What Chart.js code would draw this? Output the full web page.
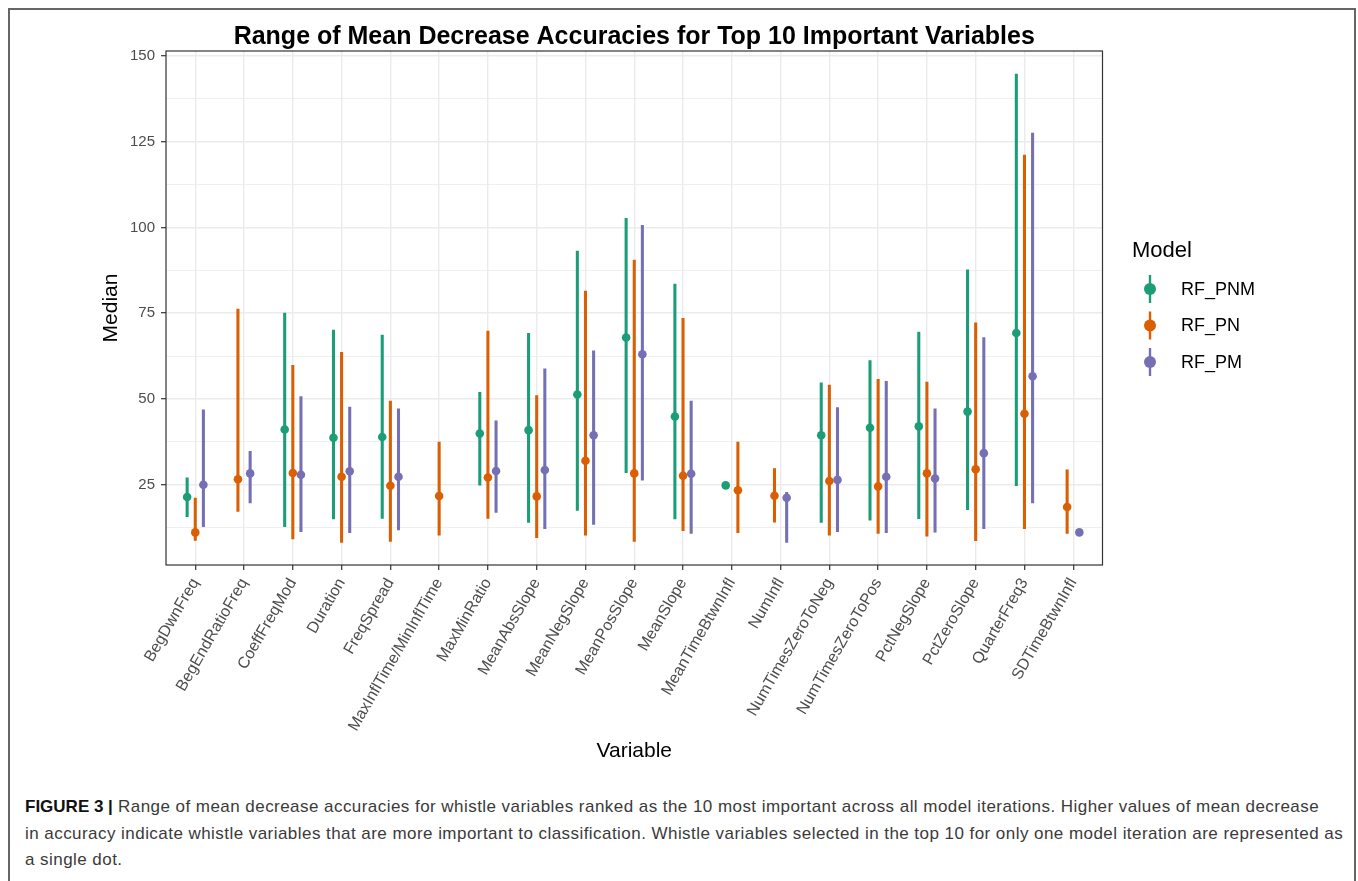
<!DOCTYPE html>
<html>
<head>
<meta charset="utf-8">
<script src="https://cdn.jsdelivr.net/npm/chart.js@4.4.1/dist/chart.umd.min.js"></script>
<style>
  html, body { margin: 0; padding: 0; background: #fff; overflow: hidden; }
  #frame {
    position: absolute; left: 8px; top: 8px; width: 1348px; height: 900px;
    box-sizing: border-box; border: 2px solid #666;
  }
  #chart { position: absolute; left: 0; top: 0; }
  #caption {
    position: absolute; left: 25px; top: 794px;
    font-family: "Liberation Sans", Arial, sans-serif; font-size: 17px;
    letter-spacing: 0.45px; line-height: 26.5px; color: #3a3a3a; white-space: nowrap;
  }
  #caption b { color: #111; letter-spacing: 0; }
</style>
</head>
<body>
<div id="frame"></div>
<canvas id="chart" width="1358" height="790"></canvas>
<div id="caption">
  <b>FIGURE 3 |</b> Range of mean decrease accuracies for whistle variables ranked as the 10 most important across all model iterations. Higher values of mean decrease<br>
  in accuracy indicate whistle variables that are more important to classification. Whistle variables selected in the top 10 for only one model iteration are represented as<br>
  a single dot.
</div>
<script>
const variables = ['BegDwnFreq', 'BegEndRatioFreq', 'CoeffFreqMod', 'Duration', 'FreqSpread',
  'MaxInflTime/MinInflTime', 'MaxMinRatio', 'MeanAbsSlope', 'MeanNegSlope', 'MeanPosSlope',
  'MeanSlope', 'MeanTimeBtwnInfl', 'NumInfl', 'NumTimesZeroToNeg', 'NumTimesZeroToPos',
  'PctNegSlope', 'PctZeroSlope', 'QuarterFreq3', 'SDTimeBtwnInfl'];

const models = ['RF_PNM', 'RF_PN', 'RF_PM'];
const modelColors = ['#1B9E77', '#D95F02', '#7570B3'];

// RF_PNM
const pnmMed  = [21.4, null, 41.1, 38.7, 38.9, null, 39.9, 40.9, 51.3, 67.9, 44.9, 24.8, null, 39.4, 41.6, 42.0, 46.3, 69.2, null];
const pnmLow  = [15.7, null, 12.8, 15.0, 15.2, null, 24.9, 14.0, 17.5, 28.5, 15.0, 24.8, null, 14.0, 14.7, 15.1, 17.7, 24.7, null];
const pnmHigh = [27.0, null, 75.0, 70.1, 68.6, null, 51.9, 69.1, 93.1, 102.6, 83.5, 24.8, null, 54.7, 61.2, 69.5, 87.6, 144.7, null];
// RF_PN
const pnMed  = [11.1, 26.6, 28.4, 27.3, 24.7, 21.7, 27.1, 21.6, 32.0, 28.3, 27.6, 23.4, 21.8, 26.1, 24.5, 28.3, 29.5, 45.7, 18.5];
const pnLow  = [8.8, 17.2, 9.2, 8.2, 8.5, 10.3, 15.2, 9.6, 10.3, 8.5, 11.6, 11.0, 14.1, 10.3, 10.8, 10.0, 8.7, 12.2, 10.8];
const pnHigh = [21.1, 76.2, 59.8, 63.6, 49.4, 37.4, 69.8, 51.0, 81.4, 90.5, 73.5, 37.4, 29.7, 54.0, 55.7, 54.9, 72.2, 121.1, 29.3];
// RF_PM
const pmMed  = [25.0, 28.3, 27.9, 28.9, 27.3, null, 29.0, 29.3, 39.4, 63.0, 28.2, null, 21.2, 26.4, 27.3, 26.8, 34.2, 56.6, 11.1];
const pmLow  = [12.8, 19.7, 11.3, 11.0, 11.8, null, 16.9, 12.2, 13.4, 26.3, 10.8, null, 8.2, 11.3, 11.0, 11.2, 12.2, 19.7, 11.1];
const pmHigh = [46.8, 34.7, 50.7, 47.6, 47.1, null, 43.6, 58.8, 64.0, 100.6, 49.4, null, 22.8, 47.5, 55.1, 47.1, 67.9, 127.5, 11.1];

const yTicks = [25, 50, 75, 100, 125, 150];

const meds = [pnmMed, pnMed, pmMed];
const lows = [pnmLow, pnLow, pmLow];
const highs = [pnmHigh, pnHigh, pmHigh];

// position_dodge(width = 0.5): split among the models present at each variable
function dodgeX(i, m) {
  const present = meds.map(a => a[i] != null);
  const n = present.filter(Boolean).length;
  const k = present.slice(0, m).filter(Boolean).length;
  return i + (k - (n - 1) / 2) * (0.5 / n);
}

const datasets = [];
models.forEach((name, m) => {
  const pts = [], bars = [];
  variables.forEach((v, i) => {
    if (meds[m][i] == null) return;
    const x = dodgeX(i, m);
    pts.push({ x: x, y: meds[m][i] });
    bars.push({ x: x, y: [lows[m][i], highs[m][i]] });
  });
  datasets.push({
    type: 'bar', label: name + ' range', data: bars,
    backgroundColor: modelColors[m], barThickness: 2.4, grouped: false, order: 2
  });
  datasets.push({
    type: 'scatter', label: name, data: pts,
    backgroundColor: modelColors[m], borderWidth: 0, pointRadius: 4.3, order: 1
  });
});

const decor = {
  id: 'decor',
  afterDraw(chart) {
    const { ctx, chartArea: a } = chart;
    ctx.save();
    // panel border
    ctx.strokeStyle = '#333';
    ctx.lineWidth = 1.2;
    ctx.strokeRect(a.left, a.top, a.right - a.left, a.bottom - a.top);
    // title
    ctx.fillStyle = '#000';
    ctx.font = 'bold 25px "Liberation Sans", Arial, sans-serif';
    ctx.textAlign = 'center';
    ctx.textBaseline = 'middle';
    ctx.fillText('Range of Mean Decrease Accuracies for Top 10 Important Variables', (a.left + a.right) / 2, 37);
    // legend
    ctx.textAlign = 'left';
    ctx.font = '22px "Liberation Sans", Arial, sans-serif';
    ctx.fillText('Model', 1132, 251);
    ctx.font = '18px "Liberation Sans", Arial, sans-serif';
    models.forEach((name, m) => {
      const y = 289 + m * 36.5;
      ctx.strokeStyle = modelColors[m];
      ctx.lineWidth = 2.4;
      ctx.beginPath();
      ctx.moveTo(1150, y - 14);
      ctx.lineTo(1150, y + 14);
      ctx.stroke();
      ctx.fillStyle = modelColors[m];
      ctx.beginPath();
      ctx.arc(1150, y, 6, 0, Math.PI * 2);
      ctx.fill();
      ctx.fillStyle = '#000';
      ctx.fillText(name, 1181, y + 1);
    });
    ctx.restore();
  }
};

new Chart(document.getElementById('chart'), {
  type: 'scatter',
  data: { datasets: datasets },
  options: {
    responsive: false,
    animation: false,
    devicePixelRatio: 1,
    layout: { padding: { left: 99, right: 255.5, top: 51, bottom: 26 } },
    plugins: { legend: { display: false }, tooltip: { enabled: false } },
    scales: {
      x: {
        type: 'linear',
        min: -0.6,
        max: variables.length - 1 + 0.6,
        offset: false,
        afterBuildTicks: s => { s.ticks = variables.map((v, i) => ({ value: i })); },
        afterFit: s => { s.height = 199; },
        ticks: {
          autoSkip: false,
          minRotation: 60,
          maxRotation: 60,
          padding: 5,
          color: '#4d4d4d',
          font: { family: '"Liberation Sans", Arial, sans-serif', size: 16 },
          callback: v => variables[v]
        },
        grid: { offset: false, color: '#ebebeb', lineWidth: 1.4, tickColor: '#333', tickLength: 5, tickWidth: 1.2 },
        border: { display: false },
        title: {
          display: true, text: 'Variable', color: '#000',
          font: { family: '"Liberation Sans", Arial, sans-serif', size: 21 },
          padding: 0
        }
      },
      y: {
        min: 1.6,
        max: 151.4,
        afterBuildTicks: s => {
          const t = [];
          yTicks.forEach(v => { t.push({ value: v - 12.5 }); t.push({ value: v }); });
          s.ticks = t;
        },
        afterFit: s => { s.width = 67; },
        ticks: {
          padding: 6,
          color: '#4d4d4d',
          font: { family: '"Liberation Sans", Arial, sans-serif', size: 15 },
          callback: v => (yTicks.includes(v) ? v : '')
        },
        grid: {
          color: '#ebebeb',
          lineWidth: c => (yTicks.includes(c.tick.value) ? 1.4 : 0.8),
          tickColor: c => (yTicks.includes(c.tick.value) ? '#333' : 'rgba(0,0,0,0)'),
          tickLength: 5,
          tickWidth: 1.2
        },
        border: { display: false },
        title: {
          display: true, text: 'Median', color: '#000',
          font: { family: '"Liberation Sans", Arial, sans-serif', size: 21 },
          padding: 0
        }
      }
    }
  },
  plugins: [decor]
});
</script>
</body>
</html>
